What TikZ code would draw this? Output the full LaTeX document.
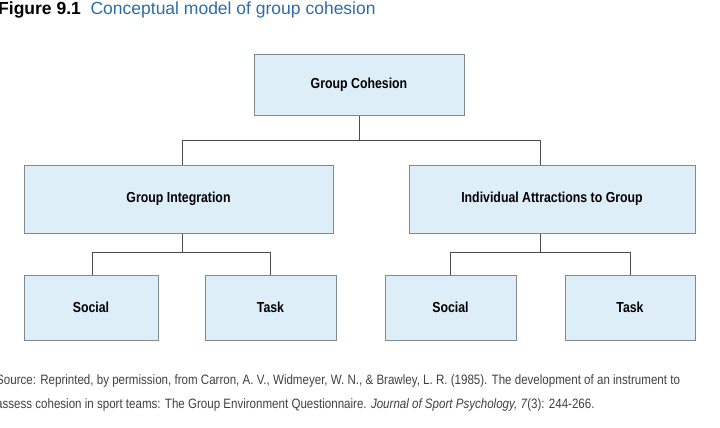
\documentclass[tikz,border=0pt]{standalone}
\usepackage{fontspec}
\setmainfont{Liberation Sans}
\newfontfamily\narrow[FakeStretch=0.85]{Liberation Sans}
\definecolor{boxfill}{HTML}{DDEEF9}
\definecolor{boxline}{HTML}{7F8A90}
\definecolor{titleblue}{HTML}{2E6DA4}
\begin{document}
\begin{tikzpicture}[x=1pt,y=-1pt,
  box/.style={draw=boxline,fill=boxfill,line width=1pt,inner sep=0pt,font=\narrow\bfseries\fontsize{14.5}{16}\selectfont},
  conn/.style={draw=black!70,line width=0.9pt}]
\useasboundingbox (0,0) rectangle (720,428);
\clip (0,0) rectangle (720,428);
\node[box,minimum width=210,minimum height=60] (gc) at (359,85) {Group Cohesion};
\node[box,minimum width=309,minimum height=68] (gi) at (178.5,199) {Group Integration};
\node[box,minimum width=286,minimum height=68] (ia) at (552,199) {Individual Attractions to Group};
\node[box,minimum width=134,minimum height=65] (s1) at (91,307.5) {Social};
\node[box,minimum width=131,minimum height=65] (t1) at (270.5,307.5) {Task};
\node[box,minimum width=131,minimum height=65] (s2) at (450.5,307.5) {Social};
\node[box,minimum width=130,minimum height=65] (t2) at (630,307.5) {Task};
\coordinate (j1) at (359,140);
\coordinate (j2) at (182,252);
\coordinate (j3) at (540,252);
\draw[conn] (gc.south) -- (j1);
\draw[conn] (j1) -| ([xshift=3.5pt]gi.north);
\draw[conn] (j1) -| ([xshift=-12pt]ia.north);
\draw[conn] ([xshift=3.5pt]gi.south) -- (j2);
\draw[conn] (j2) -| ([xshift=1pt]s1.north);
\draw[conn] (j2) -| (t1.north);
\draw[conn] ([xshift=-12pt]ia.south) -- (j3);
\draw[conn] (j3) -| (s2.north);
\draw[conn] (j3) -| (t2.north);
\node[anchor=west,inner sep=0pt,font=\fontsize{17.5}{20}\selectfont] (title) at (-2,10)
  {\textbf{Figure 9.1}\ \ \textcolor{titleblue}{Conceptual model of group cohesion}};
\node[anchor=west,inner sep=0pt,text=black!75,font=\narrow\fontsize{13.6}{15}\selectfont] (src1) at (-4,381)
  {Source: Reprinted, by permission, from Carron, A. V., Widmeyer, W. N., \& Brawley, L. R. (1985). The development of an instrument to};
\node[anchor=west,inner sep=0pt,text=black!75,font=\narrow\fontsize{13.6}{15}\selectfont] (src2) at (-4,405)
  {assess cohesion in sport teams: The Group Environment Questionnaire. \textit{Journal of Sport Psychology, 7}(3): 244-266.};
\end{tikzpicture}
\end{document}
